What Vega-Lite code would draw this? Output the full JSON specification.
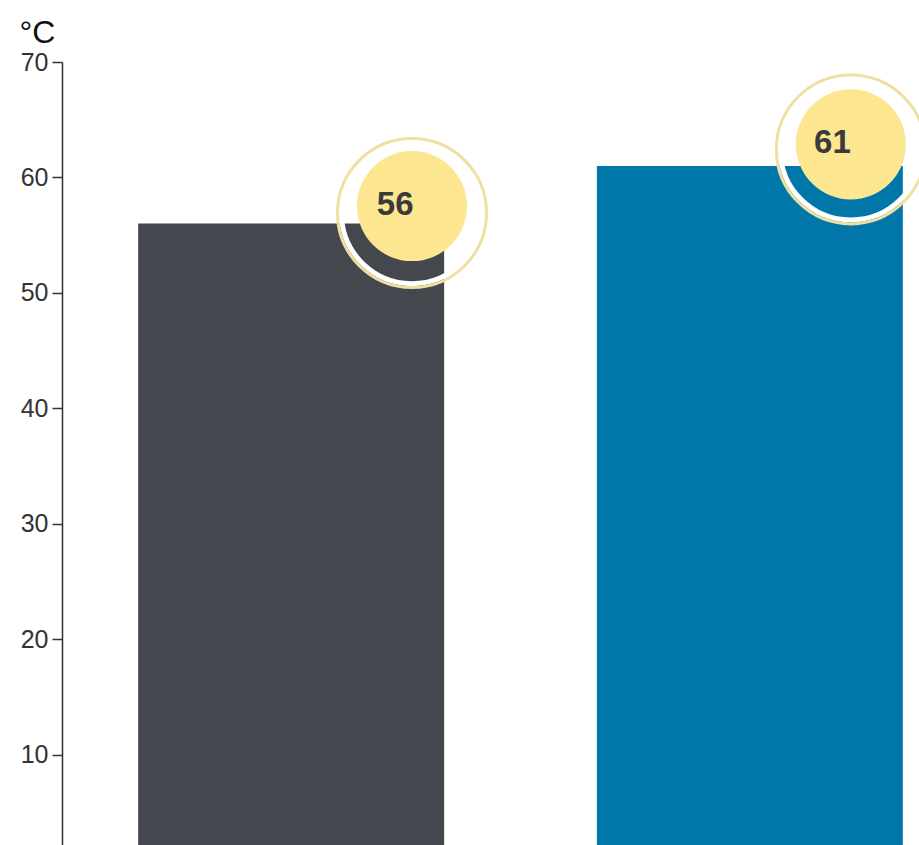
{
  "$schema": "https://vega.github.io/schema/vega-lite/v6.json",
  "autosize": "none",
  "padding": {"left": 62, "top": 62, "right": 0, "bottom": 0},
  "width": 917,
  "height": 808,
  "background": "white",
  "config": {"view": {"stroke": null}, "font": "Liberation Sans"},
  "data": {"values": [
    {"category": "A", "value": 56},
    {"category": "B", "value": 61}
  ]},
  "encoding": {
    "x": {"field": "category", "type": "nominal", "axis": null,
          "scale": {"paddingInner": 0.333, "paddingOuter": 0.166}},
    "y": {"field": "value", "type": "quantitative",
          "scale": {"domain": [0, 70], "nice": false, "zero": true},
          "axis": {"values": [10, 20, 30, 40, 50, 60, 70], "grid": false,
                   "domainColor": "#333333", "domainWidth": 1.5,
                   "tickColor": "#333333", "tickWidth": 1.5, "tickSize": 10,
                   "labelFontSize": 25, "labelColor": "#333333", "labelFont": "Liberation Sans",
                   "labelPadding": 4,
                   "title": "°C", "titleAngle": 0, "titleFontSize": 32, "titleFontWeight": "normal",
                   "titleFont": "Liberation Sans", "titleColor": "#111111",
                   "titleAlign": "left", "titleBaseline": "alphabetic",
                   "titleX": -43, "titleY": -20}}
  },
  "layer": [
    {
      "mark": {"type": "bar"},
      "encoding": {
        "color": {"field": "category", "type": "nominal", "legend": null,
                  "scale": {"range": ["#45474e", "#0077a8"]}}
      }
    },
    {
      "transform": [{"filter": "datum.category === 'A'"}],
      "layer": [
        {
          "mark": {"type": "point", "shape": "circle", "filled": false, "stroke": "white",
                   "strokeWidth": 5, "size": 19900, "opacity": 1, "yOffset": -10.5},
          "encoding": {"x": {"field": "category", "type": "nominal", "bandPosition": 0.895}}
        },
        {
          "mark": {"type": "point", "shape": "circle", "filled": false, "stroke": "#efe0a0",
                   "strokeWidth": 3, "size": 22200, "opacity": 1, "yOffset": -10.5},
          "encoding": {"x": {"field": "category", "type": "nominal", "bandPosition": 0.895}}
        },
        {
          "mark": {"type": "circle", "fill": "#fde690", "size": 12100, "opacity": 1, "yOffset": -17.5},
          "encoding": {"x": {"field": "category", "type": "nominal", "bandPosition": 0.895}}
        },
        {
          "mark": {"type": "text", "fontWeight": "bold", "fontSize": 33, "color": "#3a3a3a",
                   "font": "Liberation Sans", "baseline": "middle", "align": "center", "yOffset": -19},
          "encoding": {
            "x": {"field": "category", "type": "nominal", "bandPosition": 0.84},
            "text": {"field": "value", "type": "quantitative"}
          }
        }
      ]
    },
    {
      "transform": [{"filter": "datum.category === 'B'"}],
      "layer": [
        {
          "mark": {"type": "point", "shape": "circle", "filled": false, "stroke": "white",
                   "strokeWidth": 5, "size": 19900, "opacity": 1, "yOffset": -16.5},
          "encoding": {"x": {"field": "category", "type": "nominal", "bandPosition": 0.83}}
        },
        {
          "mark": {"type": "point", "shape": "circle", "filled": false, "stroke": "#efe0a0",
                   "strokeWidth": 3, "size": 22200, "opacity": 1, "yOffset": -16.5},
          "encoding": {"x": {"field": "category", "type": "nominal", "bandPosition": 0.83}}
        },
        {
          "mark": {"type": "circle", "fill": "#fde690", "size": 12100, "opacity": 1, "yOffset": -21.5},
          "encoding": {"x": {"field": "category", "type": "nominal", "bandPosition": 0.83}}
        },
        {
          "mark": {"type": "text", "fontWeight": "bold", "fontSize": 33, "color": "#3a3a3a",
                   "font": "Liberation Sans", "baseline": "middle", "align": "center", "yOffset": -22.5},
          "encoding": {
            "x": {"field": "category", "type": "nominal", "bandPosition": 0.77},
            "text": {"field": "value", "type": "quantitative"}
          }
        }
      ]
    }
  ]
}
